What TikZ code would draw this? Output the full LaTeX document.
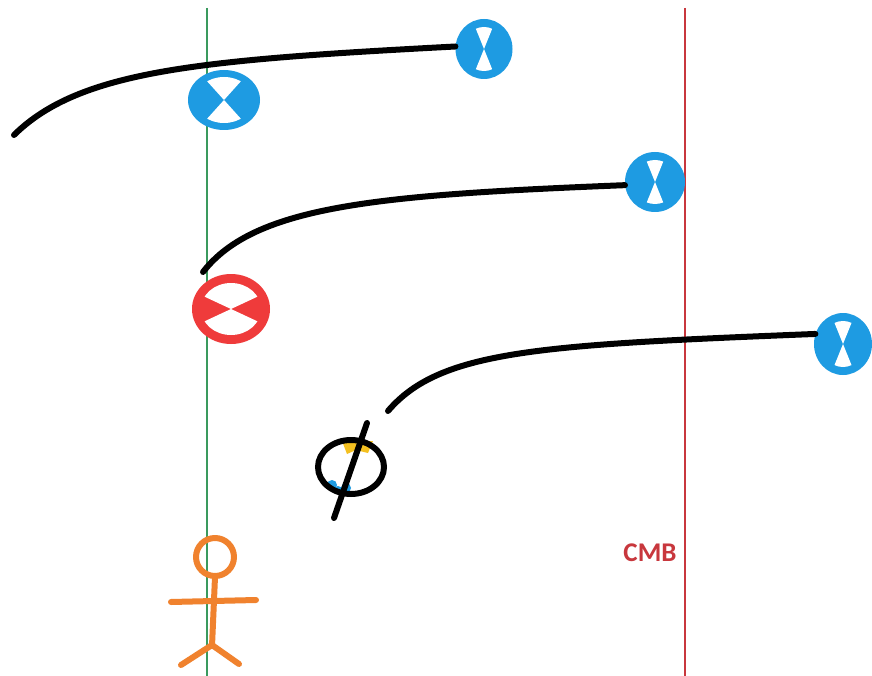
\documentclass[tikz,border=0pt]{standalone}
\usepackage{fontspec}
\newfontfamily\labelfont{Carlito}
\usetikzlibrary{shapes.geometric}
\definecolor{valveblue}{HTML}{1E9BE2}
\definecolor{valvered}{HTML}{EF3B3B}
\definecolor{wallgreen}{HTML}{3A9A5E}
\definecolor{cmbred}{HTML}{C8373D}
\definecolor{figorange}{HTML}{F0822E}
\definecolor{phiyellow}{HTML}{F4C020}
\tikzset{
  % valve symbol: coloured ring with a filled bow-tie, open wedges top and bottom
  pics/valve/.style n args={5}{% colour, width, height, ring, wedge half-angle
    code={
      \node[ellipse, fill=#1, draw=none, inner sep=0pt,
            minimum width=#2, minimum height=#3] (-c) {};
      \begin{scope}
        \clip (0,0) ellipse [x radius={#2/2-#4}, y radius={#3/2-#4}];
        \fill[white] (0,0) -- (90-#5:200pt) -- (90:200pt) -- (90+#5:200pt) -- cycle;
        \fill[white] (0,0) -- (270-#5:200pt) -- (270:200pt) -- (270+#5:200pt) -- cycle;
      \end{scope}
    }
  },
  track/.style={line width=6pt, line cap=round, black},
  wall/.style={line width=2pt},
  figure/.style={line width=6pt, line cap=round, line join=round, figorange},
}
\begin{document}
\begin{tikzpicture}[x=1pt, y=-1pt]
\useasboundingbox[fill=white] (0,0) rectangle (872,676);

% vertical boundaries
\draw[wall, wallgreen] (207,8) -- (207,676);
\draw[wall, cmbred] (685,8) -- (685,676);

% valves
\pic (v1) at (224,100) {valve={valveblue}{72pt}{60pt}{7pt}{42}};
\pic (v2) at (484,49) {valve={valveblue}{57pt}{60pt}{8pt}{22}};
\pic (v3) at (655,182) {valve={valveblue}{60pt}{60pt}{8pt}{22}};
\pic (v4) at (843,344) {valve={valveblue}{58pt}{62pt}{8pt}{22}};
\pic (vr) at (231,309) {valve={valvered}{78pt}{70pt}{9pt}{65}};

% tracks
\coordinate (s1) at (14,135);
\coordinate (s2) at (203,272);
\coordinate (s3) at (388,411);
\draw[track] (s1) .. controls (80,70) and (200,60) .. (v2-c.175);
\draw[track] (s2) .. controls (255,205) and (380,195) .. (v3-c.186);
\draw[track] (s3) .. controls (440,350) and (540,345) .. (v4-c.160);

% empty-set symbol
\fill[phiyellow] (342,441) -- (373,441) -- (368,453) -- (356,450) -- (347,454) -- cycle;
\fill[valveblue] (332,485) circle [radius=5pt];
\fill[valveblue] (346,488) circle [radius=5pt];
\fill[valveblue] (338,490) circle [radius=4pt];
\node[ellipse, draw=black, line width=6pt, inner sep=0pt,
      minimum width=66pt, minimum height=54pt] (phi) at (351,467) {};
\draw[track] (367,423) -- (334,518);

% observer
\draw[figure] (215,557) circle [radius=19pt];
\draw[figure] (215,577) -- (212,646);
\draw[figure] (171,602) -- (256,600);
\draw[figure] (181,665) -- (212,645) -- (239,664);

% label
\node[text=cmbred, inner sep=0pt,
      font=\labelfont\bfseries\fontsize{27}{27}\selectfont] (cmb) at (650,553) {CMB};
\end{tikzpicture}
\end{document}
